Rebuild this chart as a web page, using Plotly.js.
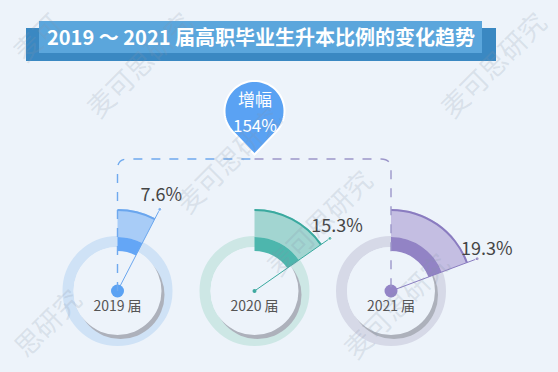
<!DOCTYPE html>
<html><head><meta charset="utf-8">
<script src="https://cdn.plot.ly/plotly-3.0.1.min.js"></script>
<style>html,body{margin:0;padding:0;background:#edf3fa;overflow:hidden}
#wrap{width:558px;height:372px;overflow:hidden;position:relative}</style>
</head><body><div id="wrap"><div id="chart"></div></div>
<script>
// ---- data ----
const years = ['2019 届', '2020 届', '2021 届'];
const rates = [7.6, 15.3, 19.3];          // % of graduates going on to a bachelor's degree
const rateLabels = ['7.6%', '15.3%', '19.3%'];
const growthTitle = '增幅';
const growthLabel = '154%';
const chartTitle = '2019 ～ 2021 届高职毕业生升本比例的变化趋势';
const watermarks = ['麦可思研究', '麦可思研究', '麦可思研究', '麦可思研究', '麦可思研究', '思研究', '麦可'];

// ---- styles ----
const W = 558, HH = 406;                    // figure is taller than the 372px window; the extra is hidden
const px = x => x / W, py = y => 1 - y / HH;
const BG = '#edf3fa';
const FONT = '"Noto Sans CJK SC", "Noto Sans", sans-serif';
const centers = [[117.5, 291], [254.5, 291], [391, 291]];
const R = 115;                              // polar radius in px (1 radial unit = 1 px)
const SECT = 82;                            // sector outer radius
const ringC  = ['#cfe2f6', '#cde7e5', '#d6d9e7'];
const lightC = ['#a8ccf7', '#a2d5d1', '#c4bee2'];
const edgeC  = ['#6aa6ee', '#3aa99f', '#8a7cc0'];
const darkC  = ['#64a6f6', '#4db6ad', '#9283c5'];
const dotC   = ['#5ba2f3', '#3fa9a0', '#9384c6'];
const dotS   = [13, 4, 13];
const polarNames = ['polar', 'polar2', 'polar3'];

const traces = [];
const layout = {
  width: W, height: HH, margin: {l: 0, r: 0, t: 0, b: 0},
  paper_bgcolor: BG, plot_bgcolor: BG, showlegend: false,
  font: {family: FONT}, shapes: [], annotations: []
};

// watermarks
const wmPos = [[138, 64], [228, 160], [318, 222], [395, 305], [492, 64], [46, 322], [36, 36]];
wmPos.forEach(([x, y], k) => layout.annotations.push({xref: 'paper', yref: 'paper', x: px(x), y: py(y),
  xanchor: 'center', yanchor: 'middle', text: watermarks[k], showarrow: false, textangle: -45,
  font: {size: 27, color: 'rgba(135,148,168,0.2)', family: FONT}}));

rates.forEach((v, i) => {
  const sp = polarNames[i];
  const [cx, cy] = centers[i];
  const ang = v * 3.6;
  layout[sp] = {
    domain: {x: [px(cx - R), px(cx + R)], y: [py(cy + R), py(cy - R)]},
    bgcolor: 'rgba(0,0,0,0)',
    radialaxis: {visible: false, range: [0, R]},
    angularaxis: {visible: false, rotation: 90, direction: 'clockwise'}
  };
  // inner disc
  traces.push({type: 'barpolar', subplot: sp, r: [44], theta: [180], width: [360],
    marker: {color: BG, line: {width: 0}}, hoverinfo: 'skip'});
  // sector (light outer part)
  traces.push({type: 'barpolar', subplot: sp, base: [54], r: [SECT - 54], theta: [ang / 2], width: [ang],
    marker: {color: lightC[i], line: {width: 0}}, hoverinfo: 'skip'});
  // sector outer edge
  traces.push({type: 'barpolar', subplot: sp, base: [SECT - 2], r: [2], theta: [ang / 2], width: [ang],
    marker: {color: edgeC[i], line: {width: 0}}, hoverinfo: 'skip'});
  // sector (dark part on ring)
  traces.push({type: 'barpolar', subplot: sp, base: [40], r: [14], theta: [ang / 2], width: [ang],
    marker: {color: darkC[i], line: {width: 0}}, hoverinfo: 'skip'});
  // leader line
  traces.push({type: 'scatterpolar', subplot: sp, mode: 'lines+markers', cliponaxis: false,
    r: [0, 92], theta: [ang, ang], line: {color: edgeC[i], width: 1},
    marker: {size: [1, 4], color: edgeC[i]}, hoverinfo: 'skip'});
  // value label
  traces.push({type: 'scatterpolar', subplot: sp, mode: 'text', cliponaxis: false,
    r: [104], theta: [ang - 2.5], text: [rateLabels[i]], textposition: 'middle center',
    textfont: {size: 18, color: '#454545', family: FONT}, hoverinfo: 'skip'});
  // center dot
  traces.push({type: 'scatterpolar', subplot: sp, mode: 'markers', cliponaxis: false,
    r: [0], theta: [0], marker: {size: dotS[i], color: dotC[i]}, hoverinfo: 'skip'});
  // year label
  traces.push({type: 'scatterpolar', subplot: sp, mode: 'markers+text', cliponaxis: false,
    r: [0], theta: [0], marker: {size: 13, opacity: 0}, text: [years[i]], textposition: 'bottom center',
    textfont: {size: 14, color: '#555', family: FONT}, hoverinfo: 'skip'});

  // ring track + shadow (below traces)
  layout.shapes.push({type: 'circle', xref: 'paper', yref: 'paper', layer: 'below',
    x0: px(cx - 49.5), x1: px(cx + 49.5), y0: py(cy + 49.5), y1: py(cy - 49.5),
    line: {color: ringC[i], width: 11}, fillcolor: 'rgba(0,0,0,0)'});
  layout.shapes.push({type: 'circle', xref: 'paper', yref: 'paper', layer: 'below',
    x0: px(cx - 44 + 3), x1: px(cx + 44 + 3), y0: py(cy + 44 + 4), y1: py(cy - 44 + 4),
    line: {width: 0}, fillcolor: '#adb1bb'});
});

// title banner
layout.shapes.push({type: 'rect', xref: 'paper', yref: 'paper', layer: 'below',
  x0: px(26), x1: px(496), y0: py(61), y1: py(28), line: {width: 0}, fillcolor: '#3a88c2'});
layout.shapes.push({type: 'rect', xref: 'paper', yref: 'paper', layer: 'below',
  x0: px(39), x1: px(482), y0: py(53), y1: py(21), line: {width: 0}, fillcolor: '#5ba6dc'});
layout.annotations.push({xref: 'paper', yref: 'paper', x: px(260.5), y: py(36.5),
  text: '<b>' + chartTitle + '</b>', showarrow: false, xanchor: 'center', yanchor: 'middle',
  font: {size: 20, color: '#ffffff', family: FONT}});

// dashed connectors
const yL = 159, rc = 10;
const [x1] = centers[0], [x3] = centers[2], xm = centers[1][0];
const P = (x, y) => px(x) + ',' + py(y);
layout.shapes.push({type: 'path', xref: 'paper', yref: 'paper', layer: 'above',
  path: 'M' + P(x1, 291) + ' L' + P(x1, yL + rc) + ' Q' + P(x1, yL) + ' ' + P(x1 + rc, yL) + ' L' + P(xm, yL),
  line: {color: '#6fa9ee', width: 1.4, dash: 'dash'}});
layout.shapes.push({type: 'path', xref: 'paper', yref: 'paper', layer: 'above',
  path: 'M' + P(xm, yL) + ' L' + P(x3 - rc, yL) + ' Q' + P(x3, yL) + ' ' + P(x3, yL + rc) + ' L' + P(x3, 291),
  line: {color: '#9c96c9', width: 1.4, dash: 'dash'}});

// pin marker
function pinPath(cx, cy, r, d) {
  const a = Math.acos(r / d);
  const start = Math.PI / 2 + a, end = Math.PI / 2 - a + 2 * Math.PI;
  let s = 'M' + P(cx, cy + d);
  const n = 60;
  for (let k = 0; k <= n; k++) {
    const t = start + (end - start) * k / n;
    s += ' L' + P(cx + r * Math.cos(t), cy + r * Math.sin(t));
  }
  return s + ' Z';
}
layout.shapes.push({type: 'path', xref: 'paper', yref: 'paper', layer: 'above',
  path: pinPath(254.5, 111, 30, 43.5), fillcolor: '#5aa2f3', line: {color: '#ffffff', width: 2}});
layout.annotations.push({xref: 'paper', yref: 'paper', x: px(254.5), y: py(99), text: growthTitle,
  xanchor: 'center', yanchor: 'middle', showarrow: false, font: {size: 17, color: '#ffffff', family: FONT}});
layout.annotations.push({xref: 'paper', yref: 'paper', x: px(254.5), y: py(124), text: growthLabel,
  xanchor: 'center', yanchor: 'middle', showarrow: false, font: {size: 17, color: '#ffffff', family: FONT}});

Plotly.newPlot('chart', traces, layout, {staticPlot: true, displayModeBar: false});
</script></body></html>
